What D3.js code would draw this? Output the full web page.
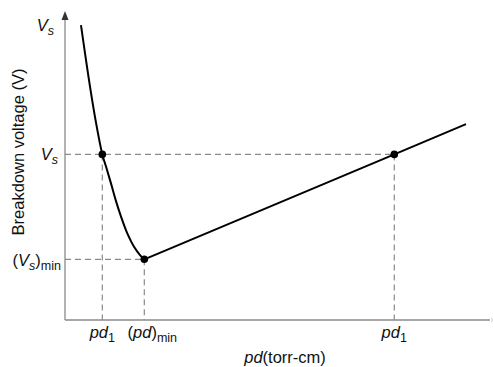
<!DOCTYPE html>
<html>
<head>
<meta charset="utf-8">
<script src="https://cdn.jsdelivr.net/npm/d3@7"></script>
<style>
  body { margin: 0; background: #fff; }
  svg { display: block; font-family: "Liberation Sans", Arial, sans-serif; }
</style>
</head>
<body>
<svg id="chart" width="493" height="367"></svg>
<script>
// Paschen curve, arbitrary units (pd, breakdown voltage)
const curvePd = [0.376, 0.553, 0.718, 0.878, 0.965, 1.082, 1.193, 1.318, 1.466, 1.624, 1.765, 1.866]
const curveV = [9.67, 7.97, 6.56, 5.43, 5.03, 4.48, 3.93, 3.39, 2.84, 2.40, 2.13, 1.99]
const linePd = [1.866, 7.748, 9.435]
const lineV = [1.99, 5.43, 6.42]

// marked points: pd1 (left), (pd)min, pd1 (right)
const markPd = [0.878, 1.866, 7.748]
const markV = [5.43, 1.99, 5.43]

const svg = d3.select("#chart")

const x = d3.scaleLinear().domain([0, 10]).range([65, 490])
const y = d3.scaleLinear().domain([0, 10]).range([320, 15])

const grey = "#8a8a8a"

// axes (no ticks, just lines)
svg.append("line")
    .attr("x1", x(0)).attr("x2", x(0))
    .attr("y1", y(0)).attr("y2", y(10) - 1)
    .attr("stroke", grey).attr("stroke-width", 1.3)
svg.append("path")
    .attr("d", `M${x(0)},${y(10) - 4} l-3.5,9 l7,0 z`)
    .attr("fill", "#333")
svg.append("line")
    .attr("x1", x(0)).attr("x2", x(10))
    .attr("y1", y(0)).attr("y2", y(0))
    .attr("stroke", grey).attr("stroke-width", 1.3)
svg.append("path")
    .attr("d", `M${x(10) + 1},${y(0) - 2} l2,2 l-2,2`)
    .attr("fill", "none").attr("stroke", "#bbb").attr("stroke-width", 0.8)

// dashed guides
const dash = svg.append("g")
    .attr("stroke", grey).attr("stroke-width", 1.2)
    .attr("stroke-dasharray", "6,4").attr("fill", "none")

dash.append("line")
    .attr("x1", x(0)).attr("x2", x(markPd[2]))
    .attr("y1", y(markV[0])).attr("y2", y(markV[0]))
dash.append("line")
    .attr("x1", x(0)).attr("x2", x(markPd[1]))
    .attr("y1", y(markV[1])).attr("y2", y(markV[1]))
markPd.forEach((p, i) => {
    dash.append("line")
        .attr("x1", x(p)).attr("x2", x(p))
        .attr("y1", y(markV[i])).attr("y2", y(0))
})

// curve
const curveData = curvePd.map((p, i) => [p, curveV[i]])
const lineData = linePd.map((p, i) => [p, lineV[i]])

svg.append("path")
    .datum(curveData)
    .attr("d", d3.line().x(d => x(d[0])).y(d => y(d[1])).curve(d3.curveCatmullRom))
    .attr("fill", "none").attr("stroke", "#000").attr("stroke-width", 2)

svg.append("path")
    .datum(lineData)
    .attr("d", d3.line().x(d => x(d[0])).y(d => y(d[1])))
    .attr("fill", "none").attr("stroke", "#000").attr("stroke-width", 2)

svg.selectAll("circle.mark")
    .data(markPd.map((p, i) => [p, markV[i]]))
    .join("circle")
    .attr("class", "mark")
    .attr("cx", d => x(d[0])).attr("cy", d => y(d[1]))
    .attr("r", 3.8).attr("fill", "#000")

// labels
const fs = 16.5

function label(xp, yp, anchor, parts) {
    const t = svg.append("text")
        .attr("x", xp).attr("y", yp)
        .attr("text-anchor", anchor)
        .attr("font-size", fs).attr("fill", "#111")
    let wasSub = false
    parts.forEach(([txt, italic, sub]) => {
        const s = t.append("tspan").text(txt)
        if (italic) s.attr("font-style", "italic")
        if (sub) {
            s.attr("font-size", fs * 0.76)
            if (!wasSub) s.attr("dy", 4)
        } else if (wasSub) s.attr("dy", -4)
        wasSub = sub
    })
    return t
}

label(54, 31, "end", [["V", true, false], ["s", true, true]])
label(58, 160, "end", [["V", true, false], ["s", true, true]])
label(61, 266, "end", [["(", false, false], ["V", true, false], ["s", true, true], [")", false, false], ["min", false, true]])

label(x(markPd[0]), 338, "middle", [["pd", true, false], ["1", false, true]])
label(x(markPd[1]) + 8, 338, "middle", [["(", false, false], ["pd", true, false], [")", false, false], ["min", false, true]])
label(x(markPd[2]), 338, "middle", [["pd", true, false], ["1", false, true]])

label(285, 363, "middle", [["pd", true, false], ["(torr-cm)", false, false]])

svg.append("text")
    .attr("transform", "translate(24,152) rotate(-90)")
    .attr("text-anchor", "middle")
    .attr("font-size", fs).attr("fill", "#111")
    .text("Breakdown voltage (V)")
</script>
</body>
</html>
